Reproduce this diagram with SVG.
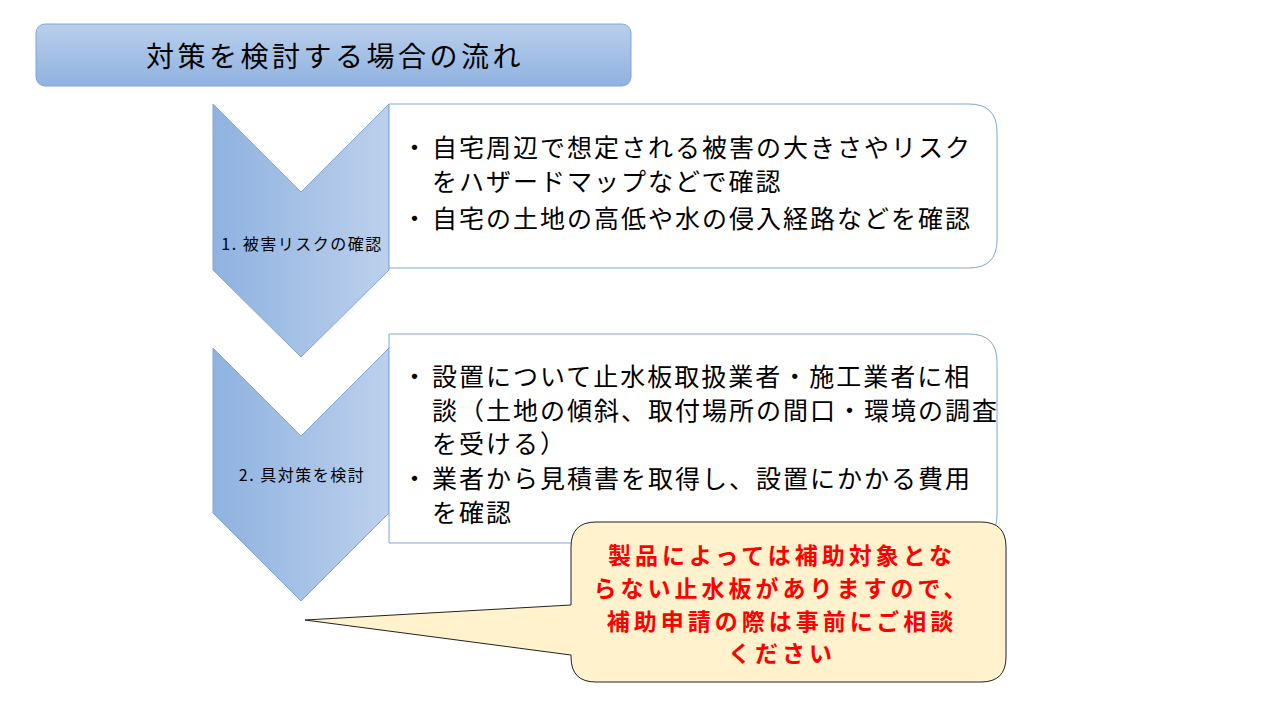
<svg xmlns="http://www.w3.org/2000/svg" width="1280" height="720" viewBox="0 0 1280 720">
<style>
text{font-family:"Noto Sans CJK JP","Noto Sans",sans-serif}
.b{font-size:25px;letter-spacing:2px;fill:#000}
.l{font-size:16px;letter-spacing:1.5px;fill:#000;text-anchor:middle}
.r{font-size:23px;letter-spacing:4px;font-weight:bold;fill:#ff0000;text-anchor:middle}
.box{fill:#fff;stroke:#7ea6d8;stroke-width:1}
.chev{fill:url(#gh);stroke:#7ea6d8;stroke-width:1}
</style>
<defs>
<linearGradient id="gv" x1="0" y1="0" x2="0" y2="1"><stop offset="0" stop-color="#b9cfec"/><stop offset="1" stop-color="#8fb2e0"/></linearGradient>
<linearGradient id="gh" x1="0" y1="0" x2="1" y2="0"><stop offset="0" stop-color="#8fb2e0"/><stop offset="1" stop-color="#bcd0ec"/></linearGradient>
</defs>
<rect width="1280" height="720" fill="#fff"/>
<g id="title"><rect x="36" y="24" width="595" height="62" rx="9" fill="url(#gv)" stroke="#7ea6d8"/>
<text x="335" y="67" font-size="28" letter-spacing="3.5" text-anchor="middle">対策を検討する場合の流れ</text></g>
<g id="step1"><polygon class="chev" points="213,104 301,192 389,104 389,270 301,357 213,270"/>
<text class="l" x="302" y="250">1. 被害リスクの確認</text></g>
<g id="step2"><polygon class="chev" points="213,348 301,436 389,348 389,513 301,601 213,513"/>
<text class="l" x="302" y="481">2. 具対策を検討</text></g>
<g id="box1"><path class="box" d="M389,104 H969 Q997,104 997,132 V240 Q997,268 969,268 H389 Z"/>
<text class="b" x="402" y="157">・</text><text class="b" x="432" y="157">自宅周辺で想定される被害の大きさやリスク</text>
<text class="b" x="432" y="191">をハザードマップなどで確認</text>
<text class="b" x="402" y="228">・</text><text class="b" x="432" y="228">自宅の土地の高低や水の侵入経路などを確認</text></g>
<g id="box2"><path class="box" d="M389,334 H969 Q997,334 997,362 V515 Q997,543 969,543 H389 Z"/>
<text class="b" x="402" y="386">・</text><text class="b" x="432" y="386">設置について止水板取扱業者・施工業者に相</text>
<text class="b" x="432" y="420">談（土地の傾斜、取付場所の間口・環境の調査</text>
<text class="b" x="432" y="453">を受ける）</text>
<text class="b" x="402" y="488">・</text><text class="b" x="432" y="488">業者から見積書を取得し、設置にかかる費用</text>
<text class="b" x="432" y="522">を確認</text></g>
<g id="callout"><path d="M596,522 H981 Q1006,522 1006,547 V657 Q1006,682 981,682 H596 Q571,682 571,657 V655 L305,620 L571,605 V547 Q571,522 596,522 Z" fill="#fff2cc" stroke="#222" stroke-width="1"/>
<text class="r" x="782" y="564">製品によっては補助対象とな</text>
<text class="r" x="782" y="597">らない止水板がありますので、</text>
<text class="r" x="782" y="630">補助申請の際は事前にご相談</text>
<text class="r" x="782" y="662">ください</text></g>
</svg>
